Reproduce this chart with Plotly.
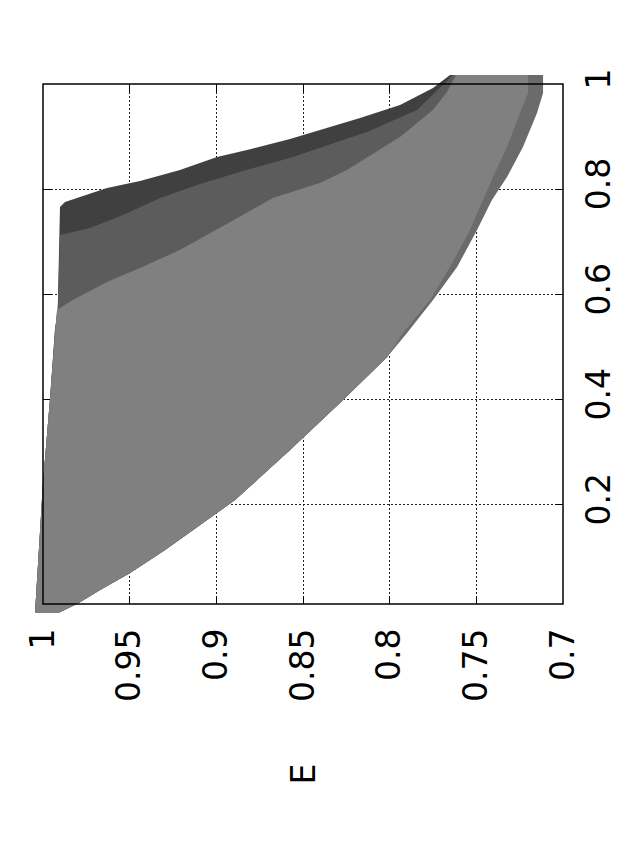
import plotly.graph_objects as go

# x parameter (vertical in the rotated page) and E (horizontal, reversed),
# read off the picture. Upper E edge of each shaded band:
d_upper_x = [-0.0071, 0.1452, 0.2404, 0.3984, 0.5316, 0.5697, 0.6500, 0.7658, 0.7753, 0.8020, 0.8153,
             0.8363, 0.8610, 0.8743, 0.8953, 0.9124, 0.9353, 0.9600, 0.9924, 1.0171]
d_upper_e = [1.0046, 1.0017, 1.0000, 0.9960, 0.9931, 0.9915, 0.9910, 0.9902, 0.9873, 0.9631, 0.9440,
             0.9210, 0.8996, 0.8823, 0.8575, 0.8402, 0.8171, 0.7940, 0.7750, 0.7652]

c_upper_x = [-0.0071, 0.1452, 0.2404, 0.3984, 0.5316, 0.5697, 0.6500, 0.7125, 0.7258, 0.7506, 0.7830,
             0.8096, 0.8344, 0.8610, 0.8915, 0.9086, 0.9505, 0.9924, 1.0171]
c_upper_e = [1.0046, 1.0017, 1.0000, 0.9960, 0.9931, 0.9915, 0.9910, 0.9902, 0.9729, 0.9538, 0.9325,
             0.9094, 0.8846, 0.8558, 0.8287, 0.8131, 0.7842, 0.7710, 0.7635]

a_upper_x = [-0.0071, 0.1452, 0.2404, 0.3984, 0.5316, 0.5697, 0.5888, 0.6230, 0.6497, 0.6840, 0.7316,
             0.7830, 0.8115, 0.8363, 0.8991, 0.9505, 0.9848, 1.0171]
a_upper_e = [1.0046, 1.0017, 1.0000, 0.9960, 0.9931, 0.9919, 0.9827, 0.9631, 0.9440, 0.9210, 0.8950,
             0.8673, 0.8402, 0.8246, 0.7940, 0.7750, 0.7669, 0.7617]

# lower E edges: inner (light band) and outer (thin darker rim)
lower_x = [-0.0071, 0.0100, 0.0367, 0.0690, 0.1128, 0.1832, 0.2080, 0.3032, 0.3984, 0.4803, 0.5259,
           0.5888, 0.6516, 0.7220, 0.7792, 0.8229, 0.8801, 0.9448, 0.9829, 1.0171]
a_lower_e = [0.9913, 0.9804, 0.9671, 0.9498, 0.9296, 0.8996, 0.8892, 0.8575, 0.8269, 0.8015, 0.7923,
             0.7767, 0.7652, 0.7537, 0.7462, 0.7404, 0.7323, 0.7248, 0.7202, 0.7202]
b_lower_e = [0.9913, 0.9804, 0.9671, 0.9498, 0.9296, 0.8996, 0.8892, 0.8575, 0.8269, 0.8015, 0.7900,
             0.7750, 0.7611, 0.7496, 0.7410, 0.7323, 0.7231, 0.7150, 0.7115, 0.7115]

e_ticks = [1, 0.95, 0.9, 0.85, 0.8, 0.75, 0.7]
e_labels = ["1", "0.95", "0.9", "0.85", "0.8", "0.75", "0.7"]
x_ticks = [0.2, 0.4, 0.6, 0.8, 1]
x_labels = ["0.2", "0.4", "0.6", "0.8", "1"]

E_RANGE = [1, 0.7]
X_RANGE = [0.01, 1]

# page geometry (pixels on the page; the html body adds an 8px offset)
W, H = 641, 856
OFF = 8
BOX_L, BOX_R, BOX_T, BOX_B = 43, 563, 84, 604
OUT_L, OUT_T, OUT_B = 35, 72, 614
TITLE_Y = 787
pw = BOX_R - OUT_L
ph = OUT_B - OUT_T
e_per_px = (E_RANGE[0] - E_RANGE[1]) / (BOX_R - BOX_L)
x_per_px = (X_RANGE[1] - X_RANGE[0]) / (BOX_B - BOX_T)

FONT = "DejaVu Sans, Verdana, sans-serif"


def band(ux, ue, lx, le):
    # closed polygon: upper edge upward, lower edge back down
    return ue + le[::-1] + [ue[0]], ux + lx[::-1] + [ux[0]]


bands = [
    (d_upper_x, d_upper_e, a_lower_e, '#404040'),
    (c_upper_x, c_upper_e, a_lower_e, '#5c5c5c'),
    (a_upper_x, a_upper_e, b_lower_e, '#6b6b6b'),
    (a_upper_x, a_upper_e, a_lower_e, '#808080'),
]

fig = go.Figure()
for ux, ue, le, col in bands:
    pe, px = band(ux, ue, lower_x, le)
    fig.add_trace(go.Scatter(
        x=pe, y=px, xaxis='x2', yaxis='y2',
        mode='lines', fill='toself', fillcolor=col,
        line=dict(width=0, color=col), hoverinfo='skip', showlegend=False
    ))

tickfont = dict(family=FONT, size=33, color='black')
grid = dict(showgrid=True, gridcolor='#222222', gridwidth=1, griddash='2px,2px',
            zeroline=False, showline=False, ticks='inside', ticklen=8, tickwidth=1,
            tickcolor='black', mirror='allticks', tickangle=-90, tickfont=tickfont,
            tickmode='array')

fig.update_layout(
    width=W, height=H,
    margin=dict(l=OUT_L - OFF, r=W - BOX_R + OFF, t=OUT_T - OFF, b=H - OUT_B + OFF, autoexpand=False),
    paper_bgcolor='white', plot_bgcolor='rgba(0,0,0,0)',
    showlegend=False,
    xaxis=dict(domain=[(BOX_L - OUT_L) / pw, 1], range=E_RANGE, anchor='y',
               tickvals=e_ticks, ticktext=e_labels, ticklabelstandoff=17, **grid),
    yaxis=dict(domain=[(OUT_B - BOX_B) / ph, (OUT_B - BOX_T) / ph], range=X_RANGE, anchor='x',
               side='right', tickvals=x_ticks, ticktext=x_labels, ticklabelstandoff=13, **grid),
    xaxis2=dict(domain=[0, 1], anchor='y2', visible=False,
                range=[E_RANGE[0] + (BOX_L - OUT_L) * e_per_px, E_RANGE[1]]),
    yaxis2=dict(domain=[0, 1], anchor='x2', visible=False,
                range=[X_RANGE[0] - (OUT_B - BOX_B) * x_per_px, X_RANGE[1] + (BOX_T - OUT_T) * x_per_px]),
)

# border on top of the filled regions
fig.add_shape(type='rect', xref='x domain', yref='y domain', x0=0, x1=1, y0=0, y1=1,
              line=dict(color='black', width=1.5), layer='above')

fig.add_annotation(text='E', textangle=-90, xref='x', yref='paper', x=0.85,
                   y=(OUT_B - TITLE_Y) / ph, showarrow=False,
                   font=dict(family=FONT, size=33, color='black'))

fig.write_html("out.html")
